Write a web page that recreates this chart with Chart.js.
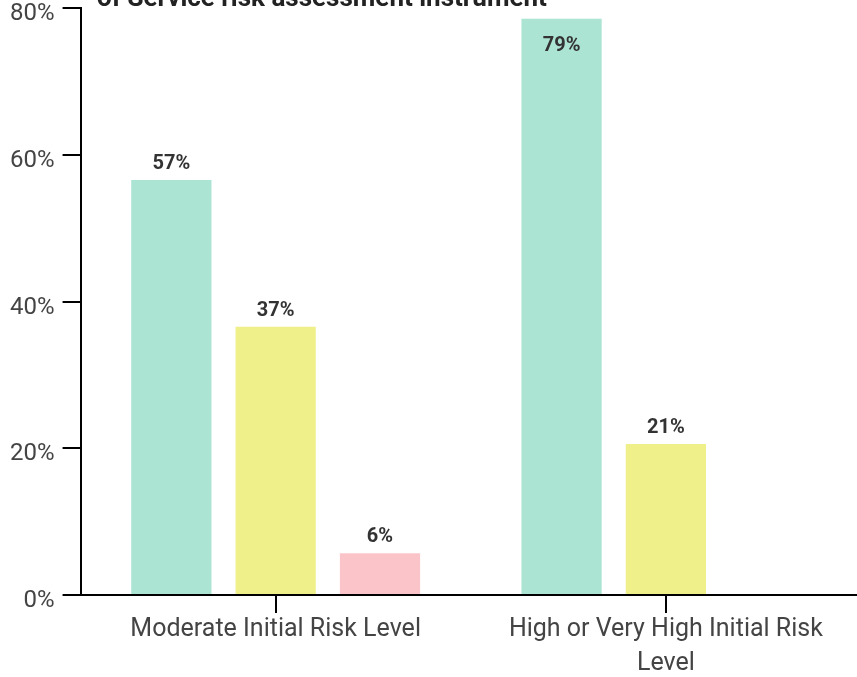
<!DOCTYPE html>
<html>
<head>
<meta charset="utf-8">
<script src="https://cdn.jsdelivr.net/npm/chart.js@4"></script>
<style>
  html, body { margin: 0; padding: 0; background: #fff; overflow: hidden; }
  #wrap { position: relative; width: 857px; height: 677px; overflow: hidden; }
  #riskChart { position: absolute; left: 2px; top: -14px; }
  #title { position: absolute; left: 97px; top: -16px; font: bold 26px Roboto, sans-serif; color: #222; white-space: nowrap; line-height: 26px; }
</style>
</head>
<body>
<div id="wrap">
  <canvas id="riskChart" width="859" height="695"></canvas>
  <div id="title">of Service risk assessment instrument</div>
</div>
<script>
// ========== Data ==========
const categories = [
    'Moderate Initial Risk Level',
    ['High or Very High Initial Risk', 'Level']
];
const seriesNames = ['Series A', 'Series B', 'Series C'];
const seriesA = [56.6, 78.6];
const seriesB = [36.6, 20.6];
const seriesC = [5.7, null];
const yTicks = [0, 20, 40, 60, 80];

const colors = ['#abe4d3', '#f0f08b', '#fbc4c9'];

// draw the percentage above each bar (inside when there is no room)
const valueLabels = {
    id: 'valueLabels',
    afterDatasetsDraw(chart) {
        const ctx = chart.ctx;
        const top = chart.chartArea.top;
        ctx.save();
        ctx.font = 'bold 20px Roboto, sans-serif';
        ctx.fillStyle = '#333';
        ctx.textAlign = 'center';
        ctx.textBaseline = 'middle';
        chart.data.datasets.forEach((ds, i) => {
            chart.getDatasetMeta(i).data.forEach((bar, j) => {
                const v = ds.data[j];
                if (v == null) return;
                let y = bar.y - 16;
                if (y < top + 10) y = bar.y + 27;
                ctx.fillText(Math.round(v) + '%', bar.x, y);
            });
        });
        ctx.restore();
    }
};

const riskCtx = document.getElementById('riskChart');
new Chart(riskCtx, {
    type: 'bar',
    data: {
        labels: categories,
        datasets: [seriesA, seriesB, seriesC].map((d, i) => ({
            label: seriesNames[i],
            data: d,
            backgroundColor: colors[i],
            borderWidth: 0,
            categoryPercentage: 0.802,
            barPercentage: 0.769
        }))
    },
    options: {
        responsive: false,
        animation: false,
        layout: { padding: 0 },
        plugins: {
            legend: { display: false },
            tooltip: { enabled: false }
        },
        scales: {
            x: {
                grid: { offset: false, drawOnChartArea: false, color: '#000', lineWidth: 2, tickLength: 18 },
                border: { color: '#000', width: 2 },
                ticks: {
                    color: '#444',
                    font: { family: 'Roboto', size: 25, lineHeight: 1.36 },
                    maxRotation: 0,
                    padding: 0
                }
            },
            y: {
                min: 0,
                max: 80,
                afterBuildTicks(axis) { axis.ticks = yTicks.map(v => ({ value: v })); },
                grid: { drawOnChartArea: false, color: '#000', lineWidth: 2, tickLength: 18 },
                border: { color: '#000', width: 2 },
                ticks: {
                    color: '#444',
                    font: { family: 'Roboto', size: 24 },
                    padding: 8,
                    labelOffset: 6,
                    callback: v => v + '%'
                }
            }
        }
    },
    plugins: [valueLabels]
});
</script>
</body>
</html>
